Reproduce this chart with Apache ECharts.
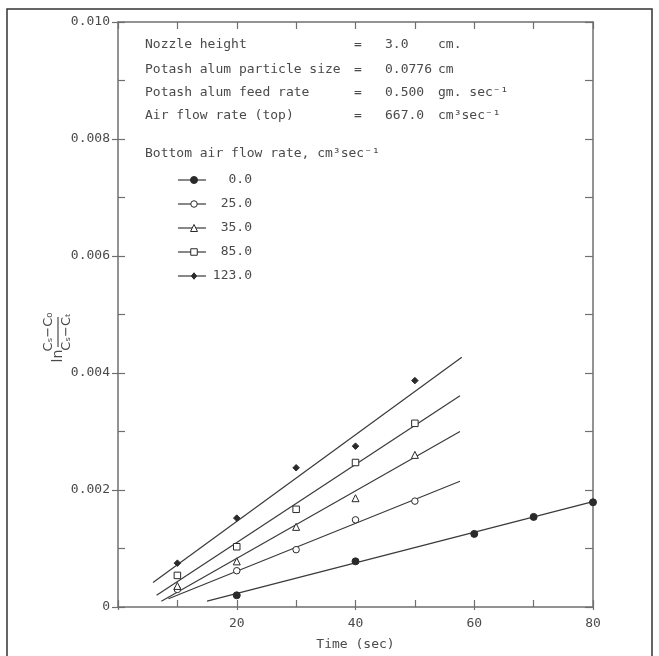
<!DOCTYPE html>
<html>
<head>
<meta charset="utf-8">
<script src="https://cdn.jsdelivr.net/npm/echarts@6/dist/echarts.min.js"></script>
<style>
html,body{margin:0;padding:0;background:#fff;}
#chart{width:659px;height:656px;}
</style>
</head>
<body>
<div id="chart"></div>
<script>
// ---- data ----
var seriesNames = ['0.0', '25.0', '35.0', '85.0', '123.0'];
var times = [10, 20, 30, 40, 50];
var data00 = [[20, 0.00020], [40, 0.00078], [60, 0.00125], [70, 0.00154], [80, 0.00179]];
var data25 = [0.00030, 0.00062, 0.00098, 0.00149, 0.00181];
var data35 = [0.00036, 0.00078, 0.00137, 0.00186, 0.00260];
var data85 = [0.00054, 0.00103, 0.00167, 0.00247, 0.00314];
var data123 = [0.00075, 0.00152, 0.00238, 0.00275, 0.00387];
// fitted straight lines (start and end point of each drawn line)
var fit00 = [[15, 0.00010], [80, 0.00180]];
var fit25 = [[8.5, 0.00014], [57.6, 0.00215]];
var fit35 = [[7.3, 0.00010], [57.6, 0.00300]];
var fit85 = [[6.5, 0.00020], [57.6, 0.00361]];
var fit123 = [[5.9, 0.00042], [57.9, 0.00427]];
var xTicks = [0, 20, 40, 60, 80];
var yTicks = [0, 0.002, 0.004, 0.006, 0.008, 0.010];
var infoLabels = ['Nozzle height', 'Potash alum particle size', 'Potash alum feed rate', 'Air flow rate (top)'];
var infoValues = ['3.0', '0.0776', '0.500', '667.0'];
var infoUnits = ['cm.', 'cm', 'gm. sec\u207B\u00B9', 'cm\u00B3sec\u207B\u00B9'];
var legendTitle = 'Bottom air flow rate, cm\u00B3sec\u207B\u00B9';

// ---- styles ----
var FONT = 'DejaVu Sans Mono';
var TXT = '#4a4a4a';
var AX = '#6f6f6f';
var INK = '#2a2a2a';
var symbolDefs = [
  {symbol: 'circle', size: 7, fill: INK},
  {symbol: 'circle', size: 6.5, fill: '#fff'},
  {symbol: 'triangle', size: 7, fill: '#fff'},
  {symbol: 'rect', size: 6.5, fill: '#fff'},
  {symbol: 'diamond', size: 6.5, fill: INK}
];

function pair(vals) { return times.map(function (t, i) { return [t, vals[i]]; }); }
var pointSets = [data00, pair(data25), pair(data35), pair(data85), pair(data123)];
var fitSets = [fit00, fit25, fit35, fit85, fit123];

var series = [];
fitSets.forEach(function (f, i) {
  series.push({
    type: 'line', name: 'fit ' + seriesNames[i], data: f, showSymbol: false, silent: true,
    lineStyle: {color: '#3a3a3a', width: 1.2}, z: 2, animation: false
  });
});
pointSets.forEach(function (d, i) {
  var s = symbolDefs[i];
  series.push({
    type: 'scatter', name: seriesNames[i], data: d, symbol: s.symbol, symbolSize: s.size,
    itemStyle: {color: s.fill, borderColor: INK, borderWidth: 1, opacity: 1}, z: 3, animation: false
  });
});

// ---- graphic: border, info block, legend, y-axis name ----
var graphics = [];
graphics.push({type: 'rect', shape: {x: 7, y: 9, width: 645, height: 680}, style: {fill: 'none', stroke: '#333', lineWidth: 1.5}, silent: true});
var infoY = [46, 71, 94, 117];
infoLabels.forEach(function (lab, i) {
  var ts = {font: '13px ' + FONT, fill: TXT, textVerticalAlign: 'middle'};
  graphics.push({type: 'text', left: 145, top: infoY[i] - 8, style: Object.assign({text: lab}, ts)});
  graphics.push({type: 'text', left: 354, top: infoY[i] - 8, style: Object.assign({text: '='}, ts)});
  graphics.push({type: 'text', left: 385, top: infoY[i] - 8, style: Object.assign({text: infoValues[i]}, ts)});
  graphics.push({type: 'text', left: 438, top: infoY[i] - 8, style: Object.assign({text: infoUnits[i]}, ts)});
});
graphics.push({type: 'text', left: 145, top: 147, style: {text: legendTitle, font: '13px ' + FONT, fill: TXT}});
var legY = [180, 204, 228, 252, 276];
function symbolShape(def, cx, cy) {
  var r = def.size / 2;
  var st = {fill: def.fill, stroke: INK, lineWidth: 1};
  if (def.symbol === 'circle') return {type: 'circle', shape: {cx: cx, cy: cy, r: r}, style: st};
  if (def.symbol === 'rect') return {type: 'rect', shape: {x: cx - r, y: cy - r, width: 2 * r, height: 2 * r}, style: st};
  if (def.symbol === 'triangle') return {type: 'polygon', shape: {points: [[cx, cy - r], [cx + r, cy + r], [cx - r, cy + r]]}, style: st};
  return {type: 'polygon', shape: {points: [[cx, cy - r], [cx + r * 0.8, cy], [cx, cy + r], [cx - r * 0.8, cy]]}, style: st};
}
seriesNames.forEach(function (n, i) {
  graphics.push({type: 'line', shape: {x1: 178, y1: legY[i], x2: 206, y2: legY[i]}, style: {stroke: '#3a3a3a', lineWidth: 1.2}});
  graphics.push(symbolShape(symbolDefs[i], 194, legY[i]));
  graphics.push({type: 'text', x: 252, y: legY[i], style: {text: n, font: '13px ' + FONT, fill: TXT, align: 'right', verticalAlign: 'middle'}});
});
// rotated y-axis name: ln (Cs-Co)/(Cs-Ct)
graphics.push({
  type: 'group', x: 58, y: 332, rotation: Math.PI / 2,
  children: [
    {type: 'text', x: -24, y: 0, style: {text: 'ln', font: '14px DejaVu Sans', fill: TXT, align: 'center', verticalAlign: 'middle'}},
    {type: 'text', x: 0, y: -9, style: {text: 'C\u209B\u2212C\u2080', font: '13px DejaVu Sans', fill: TXT, align: 'center', verticalAlign: 'middle'}},
    {type: 'line', shape: {x1: -15, y1: 0, x2: 15, y2: 0}, style: {stroke: TXT, lineWidth: 1.2}},
    {type: 'text', x: 0, y: 9, style: {text: 'C\u209B\u2212C\u209C', font: '13px DejaVu Sans', fill: TXT, align: 'center', verticalAlign: 'middle'}}
  ]
});

var axLine = {show: true, onZero: false, lineStyle: {color: AX, width: 1.5}};
var lbl = {color: TXT, fontFamily: FONT, fontSize: 13};
var tickStyle = {color: AX, width: 1.2};
var xMin = xTicks[0], xMax = xTicks[xTicks.length - 1], xStep = xTicks[1] - xTicks[0];
var yMin = yTicks[0], yMax = yTicks[yTicks.length - 1], yStep = yTicks[1] - yTicks[0];
function isMajor(v, step) { var r = v / step; return Math.abs(r - Math.round(r)) < 1e-6; }
var option = {
  backgroundColor: '#fff',
  animation: false,
  grid: {left: 118, right: 66, top: 22, bottom: 42, containLabel: false},
  xAxis: [
    {type: 'value', position: 'bottom', min: xMin, max: xMax, interval: xStep / 2,
      axisLine: axLine, splitLine: {show: false},
      axisTick: {show: true, inside: true, length: 7, lineStyle: tickStyle},
      axisLabel: Object.assign({margin: 10, formatter: function (v) { return (v !== 0 && isMajor(v, xStep)) ? String(v) : ''; }}, lbl),
      name: 'Time (sec)', nameLocation: 'middle', nameGap: 31,
      nameTextStyle: {color: TXT, fontFamily: FONT, fontSize: 13}},
    {type: 'value', position: 'bottom', min: xMin, max: xMax, interval: xStep,
      axisLine: {show: false, onZero: false}, splitLine: {show: false},
      axisTick: {show: true, inside: false, length: 3, lineStyle: tickStyle},
      axisLabel: {show: false}},
    {type: 'value', position: 'top', min: xMin, max: xMax, interval: xStep / 2,
      axisLine: axLine, splitLine: {show: false},
      axisTick: {show: true, inside: true, length: 7, lineStyle: tickStyle},
      axisLabel: {show: false}}
  ],
  yAxis: [
    {type: 'value', position: 'left', min: yMin, max: yMax, interval: yStep / 2,
      axisLine: axLine, splitLine: {show: false},
      axisTick: {show: true, inside: true, length: 7, lineStyle: tickStyle},
      axisLabel: Object.assign({margin: 8, formatter: function (v) {
        if (!isMajor(v, yStep)) return '';
        return v === 0 ? '0' : v.toFixed(3);
      }}, lbl)},
    {type: 'value', position: 'left', min: yMin, max: yMax, interval: yStep,
      axisLine: {show: false, onZero: false}, splitLine: {show: false},
      axisTick: {show: true, inside: false, length: 6, lineStyle: tickStyle},
      axisLabel: {show: false}},
    {type: 'value', position: 'right', min: yMin, max: yMax, interval: yStep / 2,
      axisLine: axLine, splitLine: {show: false},
      axisTick: {show: true, inside: true, length: 8, lineStyle: tickStyle},
      axisLabel: {show: false}}
  ],
  graphic: graphics,
  series: series
};
var chart = echarts.init(document.getElementById('chart'), null, {renderer: 'canvas'});
chart.setOption(option);
</script>
</body>
</html>
